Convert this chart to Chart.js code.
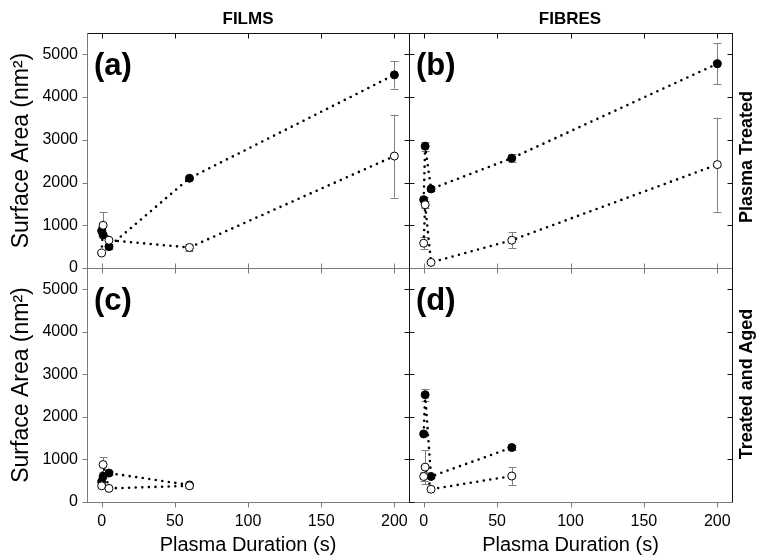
<!DOCTYPE html>
<html><head><meta charset="utf-8">
<script src="https://cdn.jsdelivr.net/npm/chart.js@4/dist/chart.umd.min.js"></script>
<style>
html,body{margin:0;padding:0;background:#fff;}
body{width:761px;height:557px;position:relative;overflow:hidden;font-family:"Liberation Sans",Arial,sans-serif;}
canvas{position:absolute;left:0;top:0;}
.lbl{position:absolute;font-weight:bold;color:#000;white-space:nowrap;line-height:1;}
.rot{transform:translate(-50%,-50%) rotate(-90deg);}
</style></head>
<body>
<canvas id="pa" width="761" height="557"></canvas>
<canvas id="pb" width="761" height="557"></canvas>
<canvas id="pc" width="761" height="557"></canvas>
<canvas id="pd" width="761" height="557"></canvas>
<div class="lbl" style="left:248px;top:18px;font-size:17px;transform:translate(-50%,-50%)">FILMS</div>
<div class="lbl" style="left:570px;top:18px;font-size:17px;transform:translate(-50%,-50%)">FIBRES</div>
<div class="lbl rot" style="left:746px;top:157px;font-size:18px;">Plasma Treated</div>
<div class="lbl rot" style="left:746px;top:384px;font-size:18px;">Treated and Aged</div>
<div class="lbl" style="left:94px;top:49px;font-size:31px;">(a)</div>
<div class="lbl" style="left:416px;top:49px;font-size:31px;">(b)</div>
<div class="lbl" style="left:94px;top:284px;font-size:31px;">(c)</div>
<div class="lbl" style="left:416px;top:284px;font-size:31px;">(d)</div>
<script>
// ---- data ----
const xTicks = [0, 50, 100, 150, 200];
const yTicks = [0, 1000, 2000, 3000, 4000, 5000];
const durations = [0, 1, 5, 60, 200];
const durationsAged = [0, 1, 5, 60];

const filmsTreatedFilled    = [870, 780, 500, 2100, 4520];
const filmsTreatedFilledErr = [110, 0, 60, 40, 320];
const filmsTreatedOpen      = [350, 1000, 650, 480, 2620];
const filmsTreatedOpenErr   = [0, 300, 0, 90, 970];

const fibresTreatedFilled    = [1600, 2850, 1850, 2570, 4780];
const fibresTreatedFilledErr = [60, 110, 40, 100, 480];
const fibresTreatedOpen      = [580, 1480, 130, 650, 2420];
const fibresTreatedOpenErr   = [140, 80, 0, 190, 1100];

const filmsAgedFilled    = [480, 600, 680, 400];
const filmsAgedFilledErr = [0, 0, 40, 0];
const filmsAgedOpen      = [380, 880, 320, 380];
const filmsAgedOpenErr   = [0, 170, 0, 40];

const fibresAgedFilled    = [1600, 2520, 600, 1280];
const fibresAgedFilledErr = [40, 140, 40, 60];
const fibresAgedOpen      = [600, 820, 300, 610];
const fibresAgedOpenErr   = [100, 400, 0, 210];

const yTitle = 'Surface Area (nm\u00B2)';
const xTitle = 'Plasma Duration (s)';

// ---- helpers ----
const W = 761, H = 557;
const AXIS_GRAY = '#7a7a7a';
const FONT = '"Liberation Sans", Arial, sans-serif';

function pts(xs, ys) { return xs.map((x, i) => ({x: x, y: ys[i]})); }

function ds(xs, ys, errs, filled) {
  return {
    data: pts(xs, ys),
    errors: errs,
    showLine: true,
    borderColor: '#000',
    borderWidth: 2.6,
    borderDash: [0, 6.6],
    borderCapStyle: 'round',
    pointRadius: 4,
    pointHoverRadius: 4,
    pointBorderWidth: 1,
    pointBorderColor: '#000',
    pointBackgroundColor: filled ? '#000' : '#fff',
    backgroundColor: filled ? '#000' : '#fff',
    fill: false,
    tension: 0
  };
}

const errorBarPlugin = {
  id: 'errbars',
  beforeDatasetsDraw(chart) {
    const ctx = chart.ctx, ys = chart.scales.y;
    ctx.save();
    ctx.strokeStyle = '#808080';
    ctx.lineWidth = 1;
    chart.data.datasets.forEach((d, di) => {
      const meta = chart.getDatasetMeta(di);
      d.data.forEach((p, i) => {
        const e = d.errors ? d.errors[i] : 0;
        if (!e) return;
        const x = Math.round(meta.data[i].x) + 0.5;
        const y1 = ys.getPixelForValue(p.y + e), y2 = ys.getPixelForValue(p.y - e);
        ctx.beginPath();
        ctx.moveTo(x, y1); ctx.lineTo(x, y2);
        ctx.moveTo(x - 4, Math.round(y1) + 0.5); ctx.lineTo(x + 4, Math.round(y1) + 0.5);
        ctx.moveTo(x - 4, Math.round(y2) + 0.5); ctx.lineTo(x + 4, Math.round(y2) + 0.5);
        ctx.stroke();
      });
    });
    ctx.restore();
  }
};

const framePlugin = {
  id: 'frame',
  afterDraw(chart, args, o) {
    const ctx = chart.ctx, a = chart.chartArea, xs = chart.scales.x, ys = chart.scales.y;
    const L = 5;
    ctx.save();
    ctx.lineWidth = 1;
    const side = (name, color) => {
      ctx.strokeStyle = color;
      ctx.beginPath();
      const mode = o.sides[name];
      if (name === 'top' || name === 'bottom') {
        const y = Math.round(name === 'top' ? a.top : a.bottom) + 0.5;
        ctx.moveTo(a.left, y); ctx.lineTo(a.right + 1, y);
        xTicks.forEach(v => {
          const x = Math.round(xs.getPixelForValue(v)) + 0.5;
          const inward = name === 'top' ? 1 : -1;
          if (mode === 'in') { ctx.moveTo(x, y); ctx.lineTo(x, y + inward * L); }
          else { ctx.moveTo(x, y); ctx.lineTo(x, y - inward * L); }
        });
      } else {
        const x = Math.round(name === 'left' ? a.left : a.right) + 0.5;
        ctx.moveTo(x, a.top); ctx.lineTo(x, a.bottom + 1);
        yTicks.forEach(v => {
          const y = Math.round(ys.getPixelForValue(v)) + 0.5;
          const inward = name === 'left' ? 1 : -1;
          if (mode === 'in') { ctx.moveTo(x, y); ctx.lineTo(x + inward * L, y); }
          else { ctx.moveTo(x, y); ctx.lineTo(x - inward * L, y); }
        });
      }
      ctx.stroke();
    };
    side('top', o.colors.top);
    side('right', o.colors.right);
    side('bottom', o.colors.bottom);
    side('left', o.colors.left);
    ctx.restore();
  }
};

function makePanel(id, box, datasets, showXLabels, showYLabels, sides, colors) {
  const padding = {
    top: box.top,
    right: W - box.right,
    left: showYLabels ? 0 : box.left,
    bottom: showXLabels ? 0 : H - box.bottom
  };
  new Chart(document.getElementById(id), {
    type: 'scatter',
    data: { datasets: datasets },
    plugins: [errorBarPlugin, framePlugin],
    options: {
      responsive: false,
      animation: false,
      events: [],
      layout: { padding: padding },
      plugins: {
        legend: { display: false },
        tooltip: { enabled: false },
        frame: { sides: sides, colors: colors }
      },
      scales: {
        x: {
          type: 'linear', min: -10, max: 210,
          display: showXLabels,
          afterBuildTicks: s => { s.ticks = xTicks.map(v => ({value: v})); },
          afterFit: s => { if (showXLabels) s.height = H - box.bottom; },
          grid: { display: false, drawTicks: false },
          border: { display: false },
          ticks: { padding: 10, color: '#000', font: { family: FONT, size: 16 }, maxRotation: 0, autoSkip: false, callback: v => String(v) },
          title: { display: true, text: xTitle, color: '#000', font: { family: FONT, size: 20 }, padding: { top: 0, bottom: 0 } }
        },
        y: {
          type: 'linear', min: 0, max: 5500,
          display: showYLabels,
          afterBuildTicks: s => { s.ticks = yTicks.map(v => ({value: v})); },
          afterFit: s => { if (showYLabels) s.width = box.left; },
          grid: { display: false, drawTicks: false },
          border: { display: false },
          ticks: { padding: 9, color: '#000', font: { family: FONT, size: 16 }, autoSkip: false, callback: v => String(v) },
          title: { display: true, text: yTitle, color: '#000', font: { family: FONT, size: 23 }, padding: { top: 8, bottom: 0 } }
        }
      }
    }
  });
}

const C_BLACK = '#111';
// open-circle series listed first so it is drawn on top of the filled series
makePanel('pa', {left: 87, top: 33, right: 409, bottom: 268},
  [ds(durations, filmsTreatedOpen, filmsTreatedOpenErr, false),
   ds(durations, filmsTreatedFilled, filmsTreatedFilledErr, true)],
  false, true,
  {top: 'in', right: 'in', bottom: 'in', left: 'out'},
  {top: C_BLACK, right: C_BLACK, bottom: AXIS_GRAY, left: AXIS_GRAY});
makePanel('pb', {left: 409, top: 33, right: 732, bottom: 268},
  [ds(durations, fibresTreatedOpen, fibresTreatedOpenErr, false),
   ds(durations, fibresTreatedFilled, fibresTreatedFilledErr, true)],
  false, false,
  {top: 'in', right: 'in', bottom: 'in', left: 'in'},
  {top: C_BLACK, right: C_BLACK, bottom: AXIS_GRAY, left: C_BLACK});
makePanel('pc', {left: 87, top: 268, right: 409, bottom: 502},
  [ds(durationsAged, filmsAgedOpen, filmsAgedOpenErr, false),
   ds(durationsAged, filmsAgedFilled, filmsAgedFilledErr, true)],
  true, true,
  {top: 'in', right: 'in', bottom: 'out', left: 'out'},
  {top: AXIS_GRAY, right: C_BLACK, bottom: AXIS_GRAY, left: AXIS_GRAY});
makePanel('pd', {left: 409, top: 268, right: 732, bottom: 502},
  [ds(durationsAged, fibresAgedOpen, fibresAgedOpenErr, false),
   ds(durationsAged, fibresAgedFilled, fibresAgedFilledErr, true)],
  true, false,
  {top: 'in', right: 'in', bottom: 'out', left: 'in'},
  {top: AXIS_GRAY, right: C_BLACK, bottom: AXIS_GRAY, left: C_BLACK});
</script>
</body></html>
